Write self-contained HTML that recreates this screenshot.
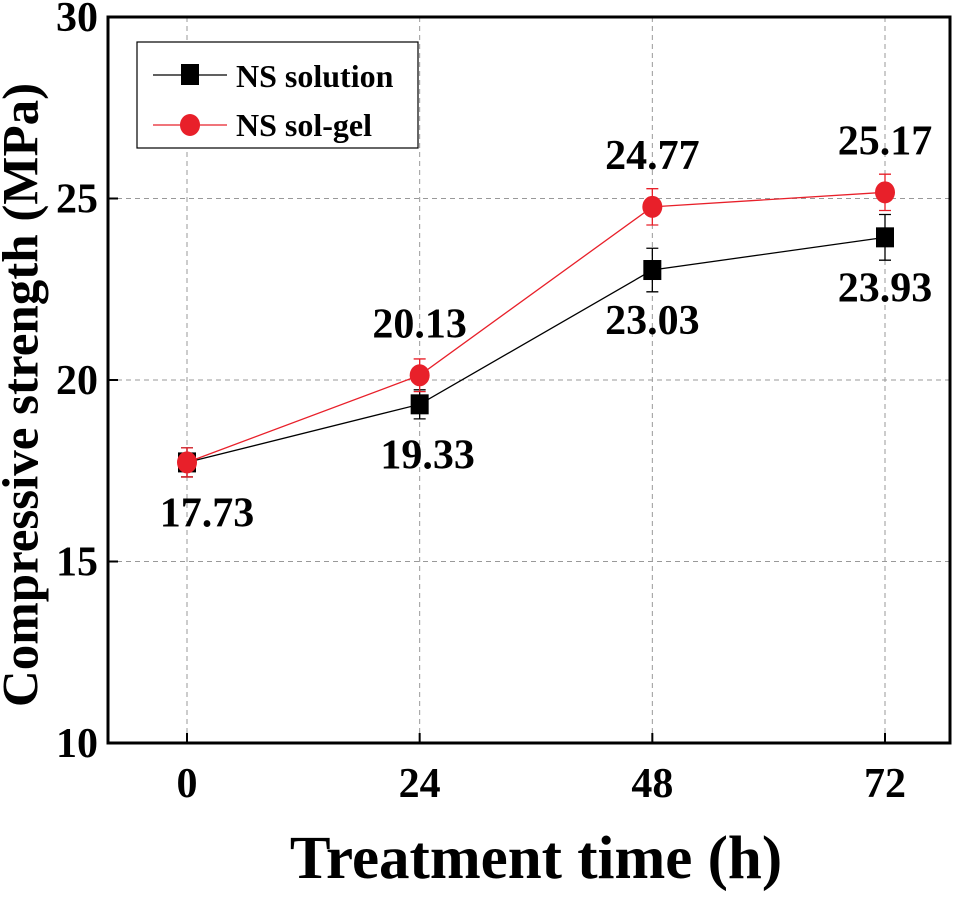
<!DOCTYPE html>
<html><head><meta charset="utf-8"><style>
html,body{margin:0;padding:0;background:#fff;}
svg text{font-family:"Liberation Serif",serif;font-weight:bold;}
</style></head><body>
<svg id="chart" width="964" height="896" viewBox="0 0 964 896" xmlns="http://www.w3.org/2000/svg">
<g id="grid"></g>
<g id="series"></g>
<rect x="108" y="17" width="842" height="726" fill="none" stroke="#000" stroke-width="3"/>
<g id="axes"></g>
<text x="26" y="395" font-size="51" text-anchor="middle" transform="rotate(-90 26 395)" dominant-baseline="middle">Compressive strength (MPa)</text>
<text x="536" y="878" font-size="61" text-anchor="middle">Treatment time (h)</text>
<g>
<rect x="137" y="42" width="281" height="106" fill="#fff" stroke="#000" stroke-width="1.2"/>
<line x1="153" y1="75" x2="227" y2="75" stroke="#000" stroke-width="1.2"/>
<rect x="181" y="64" width="18" height="21" fill="#000"/>
<text x="236" y="87" font-size="32">NS solution</text>
<line x1="153" y1="125" x2="227" y2="125" stroke="#e8202a" stroke-width="1.2"/>
<ellipse cx="190" cy="125" rx="10" ry="11" fill="#e8202a"/>
<text x="236" y="136" font-size="32">NS sol-gel</text>
</g>
</svg>
<script>
const categories=[0,24,48,72];
const solution=[17.73,19.33,23.03,23.93];
const solutionErr=[0.4,0.4,0.6,0.63];
const solgel=[17.73,20.13,24.77,25.17];
const solgelErr=[0.4,0.45,0.5,0.5];
const yTicks=[10,15,20,25,30];
const xTicks=[0,24,48,72];
const NS="http://www.w3.org/2000/svg";
const xS=v=>187+(v/72)*(885-187);
const yS=v=>743-(v-10)/20*726;
function mk(parent,tag,attrs){const e=document.createElementNS(NS,tag);for(const k in attrs)e.setAttribute(k,attrs[k]);document.getElementById(parent).appendChild(e);return e;}
yTicks.forEach(t=>{
 if(t>10&&t<30){const g=mk('grid','line',{x1:108,x2:950,y1:yS(t),y2:yS(t),stroke:'#999','stroke-dasharray':'5,4','stroke-width':1});
 
 }
 const tk=mk('axes','line',{x1:108,x2:118,y1:yS(t),y2:yS(t),stroke:'#000','stroke-width':2});
 
 
 const l=mk('axes','text',{x:98,y:yS(t)+14,'font-size':42,'text-anchor':'end'});l.textContent=t;
 
 
});
xTicks.forEach(t=>{
 const g=mk('grid','line',{x1:xS(t),x2:xS(t),y1:17,y2:743,stroke:'#999','stroke-dasharray':'5,4','stroke-width':1});
 
 
 const tk=mk('axes','line',{x1:xS(t),x2:xS(t),y1:743,y2:733,stroke:'#000','stroke-width':2});
 
 
 const l=mk('axes','text',{x:xS(t),y:797,'font-size':42,'text-anchor':'middle'});l.textContent=t;
 
 
});
function series(vals,errs,color,shape,name,labelBelow){
 const pts=categories.map((c,i)=>xS(c)+','+yS(vals[i])).join(' ');
 const pl=mk('series','polyline',{points:pts,fill:'none',stroke:color,'stroke-width':1.3});
 
 
 categories.forEach((c,i)=>{
  const x=xS(c),y=yS(vals[i]),e=errs[i]*36.3;
  const eb=mk('series','path',{d:`M${x},${y-e}V${y+e}M${x-6},${y-e}H${x+6}M${x-6},${y+e}H${x+6}`,stroke:color,'stroke-width':1.3,fill:'none'});
  
  
  let m;
  if(shape==='sq')m=mk('series','rect',{x:x-9,y:y-10,width:18,height:20,fill:color});
  else m=mk('series','ellipse',{cx:x,cy:y,rx:10,ry:11,fill:color});
  
  
  if(i===0&&shape!=='sq')return;
  const dx=(i===0)?20:(shape==='sq'&&i===1?8:0);
  const t=mk('series','text',{x:x+dx,y:labelBelow(i)?y+64:y-38,'font-size':42,'text-anchor':'middle'});
  t.textContent=vals[i].toFixed(2);
  
  
 });
}
series(solution,solutionErr,'#000','sq','solution',()=>true);
series(solgel,solgelErr,'#e8202a','ci','solgel',()=>false);
</script>
</body></html>
